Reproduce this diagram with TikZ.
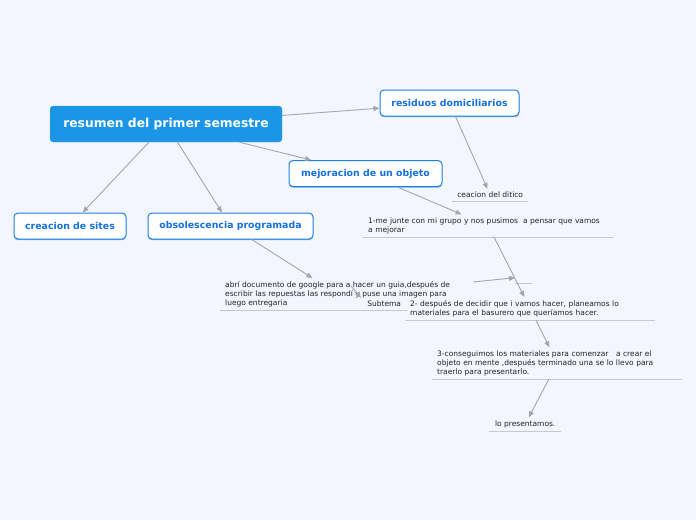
\documentclass[tikz,border=0pt]{standalone}
\usepackage{fontspec}
\setmainfont{DejaVu Sans}
\usepackage{xcolor}
\usetikzlibrary{arrows.meta,shadows}

\definecolor{fondo}{RGB}{243,246,255}
\definecolor{azul}{RGB}{27,150,230}
\definecolor{azultxt}{RGB}{22,112,222}
\definecolor{borde}{RGB}{30,128,226}
\definecolor{gris}{RGB}{163,166,176}
\definecolor{linea}{RGB}{198,201,212}
\definecolor{texto}{RGB}{35,35,40}

\begin{document}
\begin{tikzpicture}[x=1pt, y=-1pt, >={Triangle[length=6pt,width=5pt]},
  root/.style={fill=azul, draw=azul!70!white, rounded corners=3pt, text=white,
    font=\fontsize{12.3}{14}\selectfont\bfseries, minimum width=232pt, minimum height=36pt},
  topic/.style={fill=white, draw=borde, line width=1pt, rounded corners=4pt, text=azultxt,
    font=\fontsize{9.4}{11}\selectfont\bfseries, minimum height=26pt,
    drop shadow={shadow xshift=0pt, shadow yshift=-1.2pt, fill=borde, opacity=.6}},
  sub/.style={anchor=south west, text=texto, align=left, inner xsep=5pt, inner ysep=3pt,
    font=\fontsize{7.5}{9}\selectfont},
  conn/.style={->, draw=gris, line width=0.9pt},
  uline/.style={draw=linea, line width=1pt}]
  \useasboundingbox[fill=fondo] (0,0) rectangle (696,520);

  % temas principales
  \node[root] (root) at (166,124) {resumen del primer semestre};
  \node[topic, minimum width=139pt] (resid)  at (449.5,103) {residuos domiciliarios};
  \node[topic, minimum width=153pt] (mejora) at (365.5,173.5) {mejoracion de un objeto};
  \node[topic, minimum width=112pt] (sites)  at (70,226) {creacion de sites};
  \node[topic, minimum width=165pt] (obso)   at (230.5,226) {obsolescencia programada};

  % subtemas
  \node[sub, align=center, minimum width=76pt] (cea) at (452,201) {ceacion del ditico};
  \node[sub, text width=240pt] (paso1) at (363,237)
    {1-me junte con mi grupo y nos pusimos\ \ a pensar que vamos\\a mejorar};
  \node[sub] (abri) at (220,310)
    {abrí documento de google para a hacer un guia,después de\\escribir las repuestas las respondí y puse una imagen para\\luego entregaria};
  \node[sub, align=center, minimum width=46pt] (subt) at (361,310) {Subtema};
  \node[sub, minimum width=17pt, minimum height=12pt] (vacio) at (515,283) {};
  \node[sub, text width=240pt] (paso2) at (405,320)
    {2- después de decidir que i vamos hacer, planeamos lo\\materiales para el basurero que queríamos hacer.};
  \node[sub, text width=240pt] (paso3) at (432,379)
    {3-conseguimos los materiales para comenzar\ \ \ a crear el\\objeto en mente ,después terminado una se lo llevo para\\traerlo para presentarlo.};
  \node[sub, align=center, minimum width=72pt] (pres) at (489,431) {lo presentamos.};
  \coordinate (abrifin) at (351,286);
  \coordinate (suelto) at (473,282);

  \foreach \n in {cea,paso1,subt,vacio,paso2,paso3,pres}
    \draw[uline] (\n.south west) -- (\n.south east);
  \draw[uline] (abri.south west) -- ++(145,0);

  % conectores
  \draw[conn] (root) -- (resid);
  \draw[conn] (root) -- (mejora);
  \draw[conn] (root) -- (sites);
  \draw[conn] (root) -- (obso);
  \draw[conn] (resid) -- (cea);
  \draw[conn] (mejora) -- (paso1);
  \draw[conn] (obso) -- (abri);
  \draw[conn] (abrifin) -- (subt.north west);
  \draw[conn] (suelto) -- (vacio);
  \draw[conn] (paso1) -- (paso2);
  \draw[conn] (paso2) -- (paso3);
  \draw[conn] (paso3) -- (pres);
\end{tikzpicture}
\end{document}
